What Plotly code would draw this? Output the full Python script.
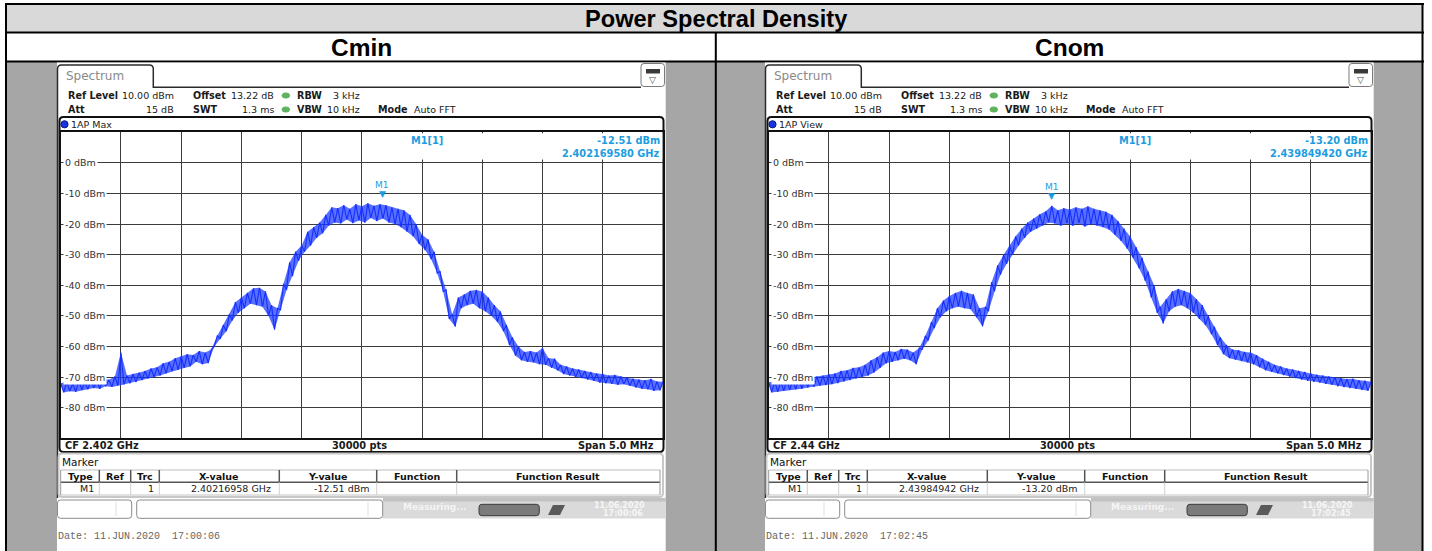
import plotly.graph_objects as go

W, H = 1432, 551

# ---------------- data ----------------
# frequency grid, MHz offset from centre frequency
freq_offsets_hi = [round(-2.5 + 0.05 * k, 3) for k in range(101)]
freq_offsets_lo = [round(-2.475 + 0.05 * k, 3) for k in range(100)]

cmin_cf_mhz = 2402.0
cnom_cf_mhz = 2440.0

# upper / lower edges of the noisy trace (dBm)
cmin_hi = [-72.0, -71.5, -72.2, -71.0, -71.6, -70.8, -71.2, -70.5, -70.9, -69.8,
           -62.0, -69.5, -69.0, -68.6, -68.0, -67.2, -66.8, -65.5, -65.0, -63.8,
           -63.2, -62.5, -62.8, -61.5, -62.0, -61.0, -56.5, -53.0, -49.5, -45.5,
           -44.0, -42.5, -41.0, -40.8, -42.0, -46.5, -47.5, -39.5, -32.5, -29.0,
           -27.0, -22.5, -21.0, -19.5, -17.0, -14.5, -14.8, -13.8, -15.0, -13.5,
           -14.2, -13.2, -14.0, -13.5, -13.8, -14.5, -15.0, -15.5, -17.0, -20.0,
           -23.5, -25.0, -29.0, -35.5, -41.5, -49.5, -44.0, -43.0, -41.8, -41.5,
           -42.0, -44.0, -46.5, -48.5, -53.0, -57.0, -60.0, -61.8, -61.5, -62.0,
           -60.5, -63.8, -64.0, -66.0, -66.5, -67.2, -67.5, -68.0, -68.3, -68.8,
           -69.0, -69.5, -69.3, -69.8, -70.2, -70.5, -70.8, -71.0, -70.6, -71.4,
           -71.5]
cmin_lo = [-75.0, -74.6, -74.8, -74.2, -74.0, -73.6, -73.8, -73.0, -73.2, -72.8,
           -72.4, -72.0, -71.6, -71.0, -70.5, -70.0, -69.5, -68.8, -68.0, -67.6,
           -67.0, -66.5, -65.0, -65.8, -65.4, -60.0, -57.5, -55.0, -51.5, -49.0,
           -47.5, -46.0, -46.5, -47.0, -50.0, -54.5, -48.0, -41.5, -37.0, -32.0,
           -29.0, -27.0, -24.5, -23.0, -20.5, -19.5, -19.8, -18.5, -19.7, -18.8,
           -19.5, -18.0, -19.0, -18.2, -19.5, -20.0, -21.0, -22.5, -24.0, -26.5,
           -28.5, -31.5, -36.0, -42.0, -51.0, -53.5, -47.5, -46.5, -46.0, -47.5,
           -48.5, -50.0, -52.0, -55.0, -59.5, -63.0, -64.5, -65.0, -65.2, -65.8,
           -66.0, -67.0, -67.8, -69.0, -69.5, -70.0, -70.3, -70.8, -71.2, -71.8,
           -72.0, -72.2, -72.5, -72.3, -72.8, -73.4, -73.8, -74.0, -74.5, -74.3]
cnom_hi = [-71.8, -71.2, -71.5, -70.8, -71.0, -70.4, -70.6, -70.0, -69.8, -69.5,
           -69.0, -68.8, -68.0, -67.8, -67.0, -66.8, -66.0, -64.5, -63.5, -62.0,
           -61.5, -61.8, -60.8, -61.0, -62.0, -60.5, -56.5, -52.0, -47.5, -45.0,
           -43.5, -42.5, -41.8, -42.5, -43.0, -47.5, -47.0, -39.0, -33.5, -30.0,
           -27.0, -24.0, -21.5, -19.5, -18.2, -16.8, -15.8, -14.0, -15.5, -14.8,
           -15.2, -14.5, -15.0, -14.2, -15.0, -15.5, -16.0, -17.0, -19.0, -21.5,
           -24.0, -27.5, -31.0, -35.5, -40.0, -47.0, -44.5, -42.0, -41.2, -41.8,
           -42.5, -44.5, -46.5, -50.0, -53.5, -57.0, -59.5, -61.0, -61.2, -61.8,
           -62.0, -62.8, -64.0, -65.0, -66.0, -66.5, -67.2, -67.5, -68.0, -68.3,
           -68.8, -69.2, -69.5, -69.8, -70.0, -70.3, -70.6, -70.5, -71.0, -71.2,
           -71.5]
cnom_lo = [-75.0, -74.8, -74.5, -74.2, -74.0, -73.8, -73.4, -73.2, -72.8, -72.6,
           -72.3, -72.0, -71.5, -71.0, -70.5, -70.0, -69.5, -68.5, -67.0, -65.5,
           -65.0, -64.5, -64.0, -64.5, -65.8, -61.0, -58.0, -54.0, -50.5, -48.5,
           -47.5, -47.0, -47.5, -47.8, -50.5, -53.4, -48.5, -42.0, -36.5, -33.0,
           -30.0, -27.0, -24.5, -22.5, -21.5, -20.5, -19.5, -19.8, -20.5, -19.8,
           -20.5, -19.8, -20.8, -20.0, -20.5, -21.0, -21.8, -23.5, -25.5, -28.0,
           -31.0, -34.5, -38.5, -44.0, -49.0, -52.5, -48.5, -47.0, -46.5, -47.5,
           -49.0, -51.0, -53.0, -56.0, -59.5, -62.5, -63.8, -64.3, -64.8, -65.2,
           -65.8, -66.8, -67.8, -68.3, -68.8, -69.3, -69.8, -70.3, -70.8, -71.2,
           -71.5, -71.8, -72.2, -72.5, -73.0, -73.3, -73.6, -73.8, -74.2, -74.5]

cmin_marker_mhz = 2402.16958
cmin_marker_dbm = -12.51
cnom_marker_mhz = 2439.84942
cnom_marker_dbm = -13.20

level_ticks = [0, -10, -20, -30, -40, -50, -60, -70, -80]
level_tick_text = ["0 dBm", "-10 dBm", "-20 dBm", "-30 dBm", "-40 dBm",
                   "-50 dBm", "-60 dBm", "-70 dBm", "-80 dBm"]

panel_titles = ["Cmin", "Cnom"]
cf_labels = ["CF 2.402 GHz", "CF 2.44 GHz"]
trace_labels = ["1AP Max", "1AP View"]
marker_level_text = ["-12.51 dBm", "-13.20 dBm"]
marker_freq_text = ["2.402169580 GHz", "2.439849420 GHz"]
table_x_text = ["2.40216958 GHz", "2.43984942 GHz"]
date_text = ["Date: 11.JUN.2020  17:00:06", "Date: 11.JUN.2020  17:02:45"]
clock_text = ["17:00:06", "17:02:45"]

# ---------------- helpers ----------------
def X(px):
    return px / W

def Y(py):
    return 1 - py / H

shapes = []
annotations = []
FONT = "DejaVu Sans"

def rect(x0, y0, x1, y1, fill=None, line=None, lw=1, layer="below"):
    shapes.append(dict(type="rect", xref="paper", yref="paper",
                       x0=X(x0), x1=X(x1), y0=Y(y1), y1=Y(y0),
                       fillcolor=fill if fill else "rgba(0,0,0,0)",
                       line=dict(color=line if line else "rgba(0,0,0,0)", width=lw if line else 0),
                       layer=layer))

def seg(x0, y0, x1, y1, color, lw=1, layer="below"):
    shapes.append(dict(type="line", xref="paper", yref="paper",
                       x0=X(x0), x1=X(x1), y0=Y(y0), y1=Y(y1),
                       line=dict(color=color, width=lw), layer=layer))

def path(d, fill=None, line=None, lw=1, layer="below"):
    shapes.append(dict(type="path", xref="paper", yref="paper", path=d,
                       fillcolor=fill if fill else "rgba(0,0,0,0)",
                       line=dict(color=line if line else "rgba(0,0,0,0)", width=lw if line else 0),
                       layer=layer))

def P(x, y):
    return f"{X(x):.6f},{Y(y):.6f}"

def rrect(x0, y0, x1, y1, r, fill=None, line=None, lw=1, layer="below"):
    d = (f"M {P(x0 + r, y0)} L {P(x1 - r, y0)} Q {P(x1, y0)} {P(x1, y0 + r)} "
         f"L {P(x1, y1 - r)} Q {P(x1, y1)} {P(x1 - r, y1)} L {P(x0 + r, y1)} "
         f"Q {P(x0, y1)} {P(x0, y1 - r)} L {P(x0, y0 + r)} Q {P(x0, y0)} {P(x0 + r, y0)} Z")
    path(d, fill, line, lw, layer)

def circle(cx, cy, rx, ry, fill, line=None, lw=1):
    shapes.append(dict(type="circle", xref="paper", yref="paper",
                       x0=X(cx - rx), x1=X(cx + rx), y0=Y(cy + ry), y1=Y(cy - ry),
                       fillcolor=fill, line=dict(color=line if line else fill, width=lw),
                       layer="below"))

def text(x, y, s, size=9.5, color="#1a1a1a", anchor="left", bold=False,
         family=FONT, bg=None, pad=0):
    annotations.append(dict(x=X(x), y=Y(y), xref="paper", yref="paper",
                            text=f"<b>{s}</b>" if bold else s, showarrow=False,
                            xanchor=anchor, yanchor="middle",
                            font=dict(family=family, size=size, color=color),
                            bgcolor=bg, borderpad=pad))

# ---------------- table frame ----------------
rect(6, 62, 1423, 551, fill="#a6a6a6")
rect(6, 4, 1423, 32.5, fill="#d9d9d9")
rect(6, 32.5, 1423, 61.5, fill="#ffffff")
seg(5, 4, 1424, 4, "#000", 2)
seg(5, 32.5, 1424, 32.5, "#000", 2)
seg(5, 61.5, 1424, 61.5, "#000", 2)
seg(6, 3, 6, 551, "#000", 2)
seg(1422.5, 3, 1422.5, 551, "#000", 2)
seg(715.8, 32.5, 715.8, 551, "#000", 2)

text(716, 18.5, "Power Spectral Density", size=23.6, color="#000", anchor="center",
     bold=True, family="Liberation Sans")
text(361, 47.5, panel_titles[0], size=24.5, color="#000", anchor="center", bold=True,
     family="Liberation Sans")
text(1069.5, 47.5, panel_titles[1], size=24.5, color="#000", anchor="center", bold=True,
     family="Liberation Sans")

BLUE_TXT = "#1c9de0"

# ---------------- instrument screenshots ----------------
def panel(i, dx):
    def x(v):
        return v + dx
    rect(x(57), 62.5, x(665.7), 551, fill="#ffffff")
    # tab + screen left edge
    d = (f"M {P(x(57.5), 498)} L {P(x(57.5), 69)} Q {P(x(57.5), 65)} {P(x(61.5), 65)} "
         f"L {P(x(149.3), 65)} Q {P(x(153.3), 65)} {P(x(153.3), 69)} "
         f"L {P(x(153.3), 87.3)} L {P(x(641), 87.3)}")
    path(d, line="#2b2b2b", lw=1.5)
    text(x(65), 76, "Spectrum", size=12, color="#8a8a8a")
    # small icon top right
    rrect(x(641), 63.5, x(664.5), 86.5, 3, fill="#ffffff", line="#7a7a7a", lw=1)
    rect(x(646), 69, x(660), 73.5, fill="#3a3a3a")
    text(x(652.8), 79.5, "▽", size=9, color="#444", anchor="center")
    # settings lines
    text(x(66.7), 95, "Ref Level", bold=True, size=9.6)
    text(x(175), 95, "10.00 dBm", anchor="right")
    text(x(191.7), 95, "Offset", bold=True, size=9.6)
    text(x(275), 95, "13.22 dB", anchor="right")
    circle(x(285.8), 95.5, 3.8, 2.6, "#5fb35f")
    text(x(296), 95, "RBW", bold=True, size=9.6)
    text(x(360.7), 95, "3 kHz", anchor="right")
    text(x(66.7), 109, "Att", bold=True, size=9.6)
    text(x(175), 109, "15 dB", anchor="right")
    text(x(191.7), 109, "SWT", bold=True, size=9.6)
    text(x(275), 109, "1.3 ms", anchor="right")
    circle(x(285.8), 109.5, 3.8, 2.6, "#5fb35f")
    text(x(296), 109, "VBW", bold=True, size=9.6)
    text(x(360.7), 109, "10 kHz", anchor="right")
    text(x(377.3), 109, "Mode", bold=True, size=9.6)
    text(x(413), 109, "Auto FFT")
    # diagram box
    rrect(x(59.5), 117, x(663.5), 452, 4, fill="#ffffff", line="#111", lw=2)
    circle(x(64.5), 124.3, 3.6, 3.6, "#1a33e0", line="#0b1a7a", lw=1)
    text(x(69.5), 124.3, trace_labels[i])
    # marker readout (covers the grid lines there)
    rect(x(362.3), 133.2, x(662.2), 159.6, fill="#ffffff", layer="above")
    text(x(426.5), 140, "M1[1]", bold=True, size=9.8, color=BLUE_TXT, anchor="center")
    text(x(661), 140, marker_level_text[i], bold=True, size=9.8, color=BLUE_TXT, anchor="right")
    text(x(661), 153.3, marker_freq_text[i], bold=True, size=9.8, color=BLUE_TXT, anchor="right")
    # bottom line of diagram
    text(x(64), 445.5, cf_labels[i], bold=True, size=9.8)
    text(x(359.7), 445.5, "30000 pts", bold=True, size=9.8, anchor="center")
    text(x(655), 445.5, "Span 5.0 MHz", bold=True, size=9.8, anchor="right")
    # marker table
    rrect(x(58.5), 453.5, x(663), 497, 4, fill="#ffffff", line="#c8c8c8", lw=2)
    text(x(60.7), 461.7, "Marker", size=10.5, color="#111")
    seg(x(60.7), 470, x(660), 470, "#bdbdbd", 1)
    seg(x(60.7), 482.3, x(660), 482.3, "#555", 1.5)
    seg(x(60.7), 495, x(660), 495, "#c4c4c4", 1)
    seg(x(60.7), 470, x(60.7), 495, "#9a9a9a", 1)
    seg(x(660), 470, x(660), 495, "#9a9a9a", 1)
    for cx in [99.3, 130.7, 159.3, 279.3, 376.7, 456.7]:
        seg(x(cx), 470, x(cx), 482.3, "#555", 1.5)
        seg(x(cx), 482.3, x(cx), 495, "#cfcfcf", 1)
    for label, cx in [("Type", 80), ("Ref", 115), ("Trc", 145), ("X-value", 219.3),
                      ("Y-value", 328), ("Function", 416.7), ("Function Result", 558.3)]:
        text(x(cx), 476.3, label, bold=True, size=9.5, anchor="center", color="#111")
    text(x(95), 488.7, "M1", anchor="right", color="#222")
    text(x(155), 488.7, "1", anchor="right", color="#222")
    text(x(272.3), 488.7, table_x_text[i], anchor="right", color="#222")
    text(x(370), 488.7, marker_level_text[i], anchor="right", color="#222")
    # status bar
    rect(x(383), 498, x(665.7), 518.5, fill="#dadada")
    rect(x(383), 498, x(665.7), 501.5, fill="#c2c2c2")
    rrect(x(57.5), 500, x(131.7), 518.3, 3, fill="#ffffff", line="#8a8a8a", lw=1)
    seg(x(116), 502, x(116), 516, "#dddddd", 1)
    rrect(x(136.7), 500, x(382.7), 518.3, 3, fill="#ffffff", line="#8a8a8a", lw=1)
    seg(x(368), 502, x(368), 516, "#dddddd", 1)
    text(x(401.7), 507, "Measuring...", bold=True, size=9, color="#f4f4f4")
    rrect(x(479), 504.3, x(539.3), 515.7, 3, fill="#7b7b7b", line="#3c3c3c", lw=1)
    path(f"M {P(x(548), 515)} L {P(x(553), 505)} L {P(x(565), 505)} L {P(x(560), 515)} Z",
         fill="#5a5a5a")
    text(x(619.3), 505.5, "11.06.2020", bold=True, size=8, color="#f6f6f6", anchor="center")
    text(x(623), 513.5, clock_text[i], bold=True, size=8, color="#f6f6f6", anchor="center")
    text(x(57), 536.7, date_text[i], size=10, color="#666", family="Liberation Mono")

panel(0, 0)
panel(1, 708)

# ---------------- spectrum traces ----------------
def zigzag(cf, hi, lo):
    xs, ys = [], []
    for k in range(len(lo)):
        xs += [cf + freq_offsets_hi[k], cf + freq_offsets_lo[k]]
        ys += [hi[k], lo[k]]
    xs.append(cf + freq_offsets_hi[-1])
    ys.append(hi[-1])
    return xs, ys

fig = go.Figure()
TRACE = "#1430ff"
for i, (cf, hi, lo, ax) in enumerate([(cmin_cf_mhz, cmin_hi, cmin_lo, ""),
                                      (cnom_cf_mhz, cnom_hi, cnom_lo, "2")]):
    # band between the upper and lower edges
    band_x = [cf + f for f in freq_offsets_hi] + [cf + f for f in freq_offsets_lo[::-1]]
    band_y = list(hi) + list(lo[::-1])
    fig.add_trace(go.Scatter(x=band_x, y=band_y, mode="lines", fill="toself",
                             fillcolor="rgba(25,55,255,0.72)", line=dict(width=0),
                             xaxis="x" + ax, yaxis="y" + ax, hoverinfo="skip",
                             showlegend=False))
    xs, ys = zigzag(cf, hi, lo)
    fig.add_trace(go.Scatter(x=xs, y=ys, mode="lines", xaxis="x" + ax, yaxis="y" + ax,
                             line=dict(color=TRACE, width=1.1), hoverinfo="skip",
                             showlegend=False))

grid_x = [(60.7, 663.0), (768.7, 1371.0)]
cfs = [cmin_cf_mhz, cnom_cf_mhz]
axis_common = dict(showgrid=True, gridcolor="#3c3c3c", gridwidth=1, showline=True,
                   mirror=True, linecolor="#111", linewidth=1.5, zeroline=False,
                   showticklabels=False, ticks="", fixedrange=True)
layout = dict(width=W, height=H, margin=dict(l=0, r=0, t=0, b=0),
              paper_bgcolor="#ffffff", plot_bgcolor="rgba(0,0,0,0)", showlegend=False)
for i, ax in enumerate(["", "2"]):
    layout["xaxis" + ax] = dict(domain=[X(grid_x[i][0]), X(grid_x[i][1])],
                                range=[cfs[i] - 2.5, cfs[i] + 2.5], dtick=0.5,
                                tick0=cfs[i] - 2.5, anchor="y" + ax, **axis_common)
    layout["yaxis" + ax] = dict(domain=[Y(438.3), Y(132.3)], range=[-90, 10], dtick=10,
                                tick0=0, anchor="x" + ax, **axis_common)
    for v, lab in zip(level_ticks, level_tick_text):
        annotations.append(dict(x=X(grid_x[i][0] + 2.3), y=v, xref="paper", yref="y" + ax,
                                text=lab, showarrow=False, xanchor="left", yanchor="middle",
                                font=dict(family=FONT, size=9.5, color="#333"),
                                bgcolor="#ffffff", borderpad=1))

# marker symbols on the traces
for ax, mx, my in [("", cmin_marker_mhz, cmin_marker_dbm), ("2", cnom_marker_mhz, cnom_marker_dbm)]:
    annotations.append(dict(x=mx, y=my, xref="x" + ax, yref="y" + ax, text="▼",
                            showarrow=False, xanchor="center", yanchor="bottom",
                            font=dict(family=FONT, size=9, color=BLUE_TXT)))
    annotations.append(dict(x=mx, y=my, xref="x" + ax, yref="y" + ax, text="M1",
                            showarrow=False, xanchor="center", yanchor="bottom", yshift=9,
                            font=dict(family=FONT, size=9, color=BLUE_TXT)))

layout["shapes"] = shapes
layout["annotations"] = annotations
fig.update_layout(**layout)

fig.write_html("out.html", config={"displayModeBar": False},
               post_script="document.body.style.margin='0';document.body.style.padding='0';")
